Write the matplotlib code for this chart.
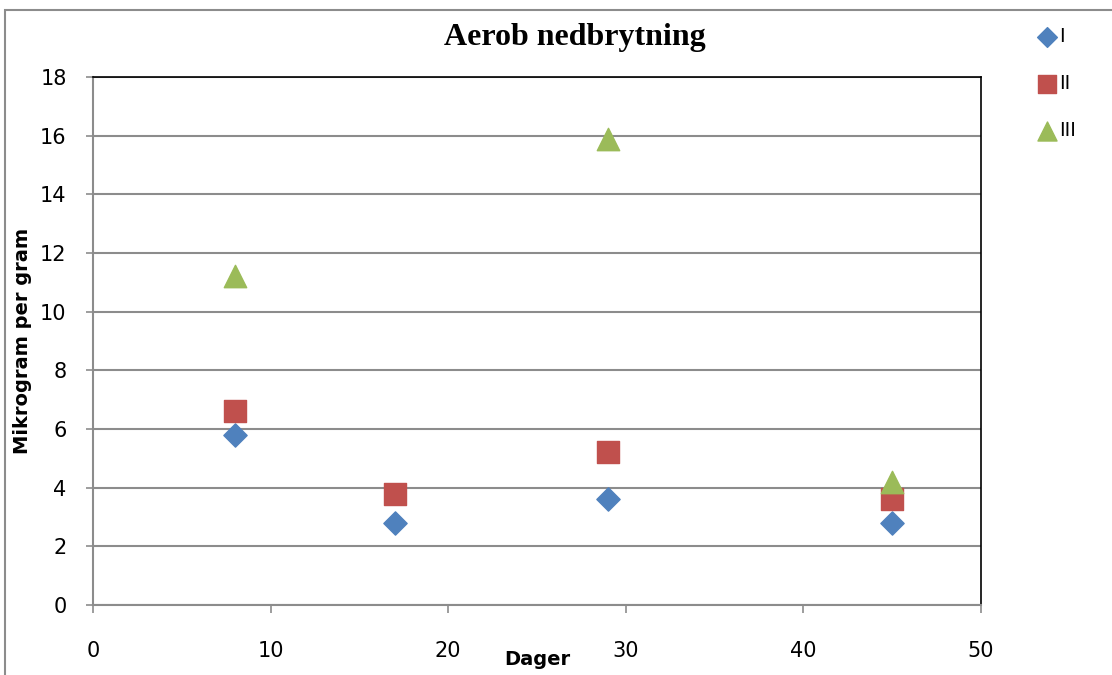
import matplotlib
matplotlib.use("Agg")
import matplotlib.pyplot as plt
from matplotlib.patches import Rectangle

days_1 = [8, 17, 29, 45]
series_1 = [5.8, 2.8, 3.6, 2.8]
days_2 = [8, 17, 29, 45]
series_2 = [6.6, 3.8, 5.2, 3.6]
days_3 = [8, 29, 45]
series_3 = [11.2, 15.9, 4.2]
labels = ["I", "II", "III"]

fig = plt.figure(figsize=(11.12, 6.75), dpi=100)
fig.patch.set_facecolor("white")
fig.patches.append(Rectangle((5 / 1112, -0.1), 1.2, 1 - 10 / 675 + 0.1,
                             transform=fig.transFigure, fill=False,
                             edgecolor="#8c8c8c", linewidth=1.5))

ax = fig.add_axes([93 / 1112, 70 / 675, 888 / 1112, 528 / 675])

ax.scatter(days_1, series_1, marker="D", s=140, color="#4F81BD", label=labels[0], zorder=3)
ax.scatter(days_2, series_2, marker="s", s=240, color="#C0504D", label=labels[1], zorder=3)
ax.scatter(days_3, series_3, marker="^", s=260, color="#9BBB59", label=labels[2], zorder=4)

ax.set_xlim(0, 50)
ax.set_ylim(0, 18)
ax.set_xticks(range(0, 51, 10))
ax.set_yticks(range(0, 19, 2))
ax.grid(axis="y", color="#8c8c8c", linewidth=1.5)
ax.set_axisbelow(True)

for side in ["top", "right"]:
    ax.spines[side].set_color("black")
    ax.spines[side].set_linewidth(1.2)
for side in ["bottom", "left"]:
    ax.spines[side].set_color("#8c8c8c")
    ax.spines[side].set_linewidth(1.5)

ax.tick_params(axis="x", length=6, width=1.2, color="#8c8c8c", pad=20, labelsize=15)
ax.tick_params(axis="y", length=5, width=1.2, color="#8c8c8c", pad=14, labelsize=15)

fig.text(575 / 1112, 1 - 37 / 675, "Aerob nedbrytning", family="Liberation Serif",
         fontweight="bold", fontsize=23, ha="center", va="center")
ax.set_xlabel("Dager", fontweight="bold", fontsize=14, labelpad=-8)
ax.set_ylabel("Mikrogram per gram", fontweight="bold", fontsize=14, labelpad=6)

leg = fig.legend(loc="upper left", bbox_to_anchor=(1022 / 1112, 1 - 13 / 675),
                 frameon=False, fontsize=14, handletextpad=0.0, labelspacing=1.45,
                 handlelength=1.2, borderpad=0.2, markerscale=0.85)

fig.savefig("out.png", dpi=100)
